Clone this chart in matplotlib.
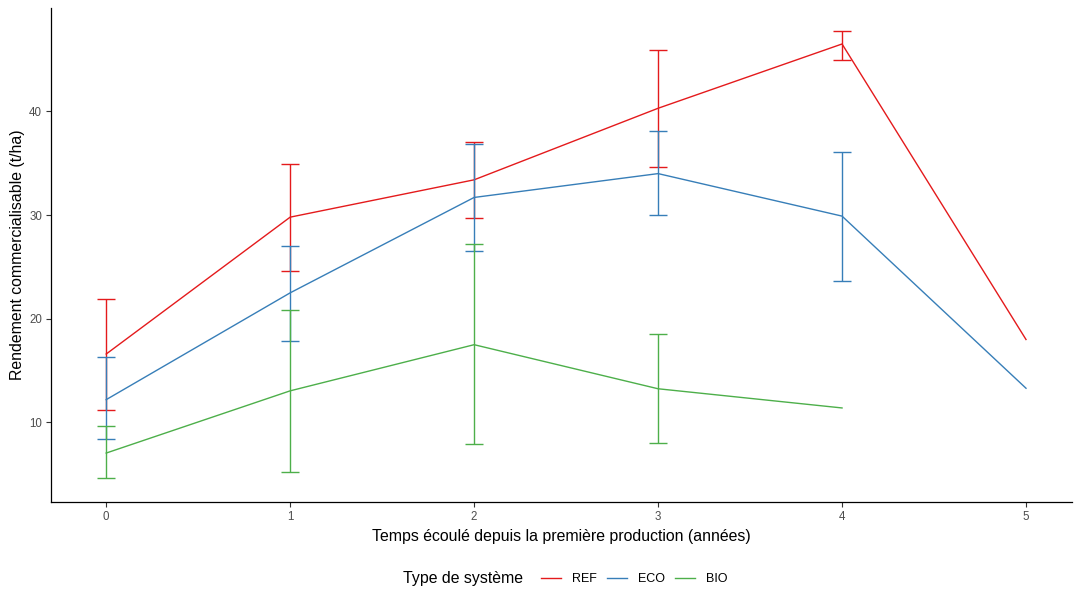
import matplotlib
matplotlib.use('Agg')
import matplotlib.pyplot as plt
from matplotlib.lines import Line2D
import numpy as np

plt.rcParams['font.family'] = ['Liberation Sans', 'DejaVu Sans']

# mean yield per year and system, with error bar bounds
years = [0, 1, 2, 3, 4, 5]

ref_mean = [16.6, 29.8, 33.4, 40.3, 46.5, 18.0]
ref_low = [11.2, 24.6, 29.7, 34.6, 45.0, np.nan]
ref_high = [21.9, 34.9, 37.0, 45.9, 47.8, np.nan]

eco_mean = [12.2, 22.5, 31.7, 34.0, 29.9, 13.3]
eco_low = [8.4, 17.9, 26.5, 30.0, 23.6, np.nan]
eco_high = [16.3, 27.0, 36.9, 38.1, 36.1, np.nan]

bio_years = [0, 1, 2, 3, 4]
bio_mean = [7.05, 13.05, 17.5, 13.25, 11.4]
bio_low = [4.6, 5.2, 7.9, 8.0, np.nan]
bio_high = [9.7, 20.85, 27.2, 18.5, np.nan]

systems = ['REF', 'ECO', 'BIO']
colors = ['#E41A1C', '#377EB8', '#4DAF4A']

fig = plt.figure(figsize=(10.76, 5.94), dpi=100)
ax = fig.add_axes([51 / 1076, 1 - 502 / 594, 1021 / 1076, 494 / 594])

series = [
    (years, ref_mean, ref_low, ref_high),
    (years, eco_mean, eco_low, eco_high),
    (bio_years, bio_mean, bio_low, bio_high),
]

for (x, m, lo, hi), c in zip(series, colors):
    x = np.array(x, dtype=float)
    m = np.array(m)
    lo = np.array(lo)
    hi = np.array(hi)
    ax.plot(x, m, color=c, lw=1.0)
    ok = ~np.isnan(lo)
    ax.vlines(x[ok], lo[ok], hi[ok], color=c, lw=1.0)
    ax.hlines(lo[ok], x[ok] - 0.05, x[ok] + 0.05, color=c, lw=1.0)
    ax.hlines(hi[ok], x[ok] - 0.05, x[ok] + 0.05, color=c, lw=1.0)

ax.set_xlim(-0.3, 5.25)
ax.set_ylim(2.33, 49.97)
ax.set_xticks(years)
ax.set_yticks([10, 20, 30, 40])

for s in ['top', 'right']:
    ax.spines[s].set_visible(False)
for s in ['left', 'bottom']:
    ax.spines[s].set_color('black')
    ax.spines[s].set_linewidth(0.9)

ax.tick_params(axis='both', labelsize=8.3, labelcolor='#4D4D4D', color='#333333',
               length=3.5, width=0.8, pad=3)

ax.set_xlabel('Temps écoulé depuis la première production (années)', fontsize=11.4, labelpad=4)
ax.set_ylabel('Rendement commercialisable (t/ha)', fontsize=11.4, labelpad=3)

# legend at the bottom with the title on the left
fig.text(403 / 1076, 1 - 579 / 594, 'Type de système', fontsize=11.4,
         ha='left', va='center')
handles = [Line2D([], [], color=c, lw=1.0) for c in colors]
fig.legend(handles, systems, ncol=3, loc='center left',
           bbox_to_anchor=(541 / 1076, 1 - 579 / 594), frameon=False,
           fontsize=9, handlelength=1.6, handletextpad=0.85, columnspacing=0.85,
           borderaxespad=0, borderpad=0)

fig.savefig('out.png', dpi=100)
